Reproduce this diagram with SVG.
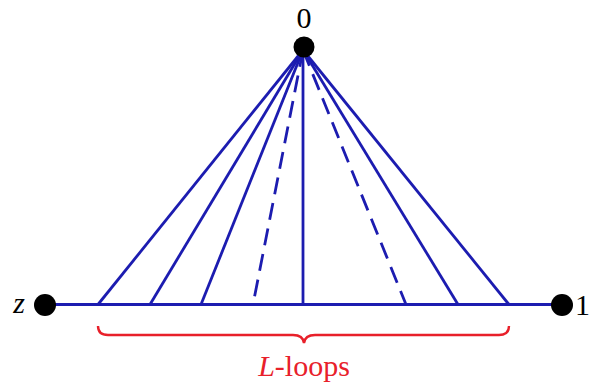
<svg xmlns="http://www.w3.org/2000/svg" width="589" height="387" viewBox="0 0 589 387">
<style>
.l{stroke:#1c1cb0;stroke-width:2.8;fill:none}
.d{stroke-dasharray:17,9}
.t{font-family:"Liberation Serif",serif;font-size:30px}
.dot{fill:#000}
</style>
<rect width="589" height="387" fill="#fff"/>
<g id="connectors">
<line class="l" x1="45" y1="304.5" x2="562" y2="304.5"/>
<line class="l" x1="303" y1="50" x2="98" y2="304.5"/>
<line class="l" x1="303" y1="50" x2="150" y2="304.5"/>
<line class="l" x1="303" y1="50" x2="201" y2="304.5"/>
<line class="l d" x1="303" y1="50" x2="253" y2="304.5"/>
<line class="l" x1="303" y1="50" x2="303" y2="304.5"/>
<line class="l d" x1="303" y1="50" x2="406" y2="304.5"/>
<line class="l" x1="303" y1="50" x2="458" y2="304.5"/>
<line class="l" x1="303" y1="50" x2="509" y2="304.5"/>
</g>
<g id="n0"><circle class="dot" cx="304" cy="47" r="10.5"/><text class="t" x="304" y="28" text-anchor="middle">0</text></g>
<g id="nz"><circle class="dot" cx="45" cy="305" r="11"/><text class="t" x="19" y="313" text-anchor="middle" font-style="italic">z</text></g>
<g id="n1"><circle class="dot" cx="562" cy="305" r="11"/><text class="t" x="575" y="315">1</text></g>
<g id="brace">
<path d="M98,326 Q98,335 108,335 L293,335 Q303,335 304,343 Q305,335 315,335 L499,335 Q509,335 509,326" fill="none" stroke="#e8202a" stroke-width="2.4"/>
<text class="t" x="304" y="376" text-anchor="middle" fill="#e8202a"><tspan font-style="italic">L</tspan>-loops</text>
</g>
</svg>
